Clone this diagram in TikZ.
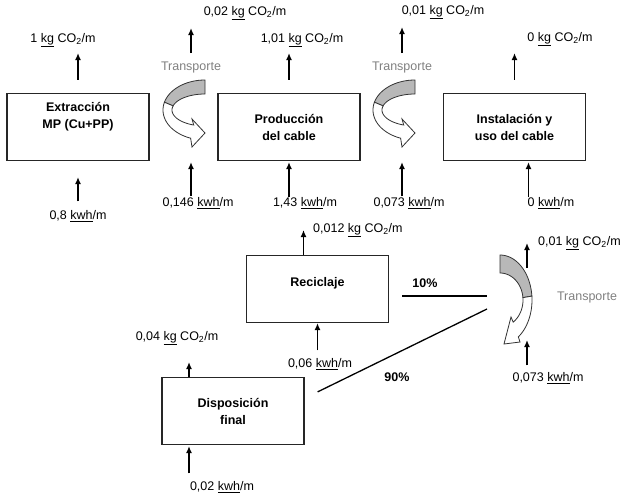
\documentclass[tikz,border=0pt]{standalone}
\usepackage{fontspec}
\setmainfont{Liberation Sans}
\usetikzlibrary{arrows.meta}

\newcommand{\tam}{\fontsize{12.5}{17}\selectfont}
\newcommand{\kgco}{\underline{kg} CO\textsubscript{2}/m}
\newcommand{\kwhm}{\underline{kwh}/m}

\tikzset{
  caja/.style={draw=black!85, line width=1.2pt, minimum width=142pt, minimum height=67pt,
    align=center, font=\tam\bfseries, inner sep=2pt},
  etiq/.style={inner sep=0pt},
  gris/.style={inner sep=0pt, text=black!50},
  flecha/.style={-{Latex[length=7pt,width=6pt]}, line width=1.4pt},
  linea/.style={line width=1.3pt},
  curva/.style={draw=black!80, line width=0.8pt}
}

\begin{document}
\begin{tikzpicture}[x=1pt, y=-1pt, font=\tam]

\useasboundingbox (0,0) rectangle (633,496);

% Cajas
\node[caja, text depth=23pt] (ext) at (78,127) {Extracción\\MP (Cu+PP)};
\node[caja] (prod) at (289,127) {Producción\\del cable};
\node[caja] (inst) at (514.5,127) {Instalación y\\uso del cable};
\node[caja, text depth=15pt] (rec) at (317.5,289) {Reciclaje};
\node[caja] (disp) at (233,411) {Disposición\\final};

% Etiquetas de emisiones
\node[etiq] (co1) at (63,40) {1 \kgco};
\node[etiq] (co2) at (245,13) {0,02 \kgco};
\node[etiq] (co3) at (302,40) {1,01 \kgco};
\node[etiq] (co4) at (443,12) {0,01 \kgco};
\node[etiq] (co5) at (560,39) {0 \kgco};
\node[etiq, anchor=west] (co6) at (313,230) {0,012 \kgco};
\node[etiq] (co7) at (177,338) {0,04 \kgco};
\node[etiq, anchor=west] (co8) at (538,243) {0,01 \kgco};

% Etiquetas de energía
\node[etiq] (kw1) at (78,216) {0,8 \kwhm};
\node[etiq] (kw2) at (198,203) {0,146 \kwhm};
\node[etiq] (kw3) at (305,203) {1,43 \kwhm};
\node[etiq] (kw4) at (409,203) {0,073 \kwhm};
\node[etiq] (kw5) at (551,203) {0 \kwhm};
\node[etiq] (kw6) at (320,364) {0,06 \kwhm};
\node[etiq] (kw7) at (222,487) {0,02 \kwhm};
\node[etiq] (kw8) at (548,378) {0,073 \kwhm};

% Transporte
\node[gris] (tr1) at (191,67) {Transporte};
\node[gris] (tr2) at (402,67) {Transporte};
\node[gris] (tr3) at (587,297) {Transporte};
\coordinate (sube) at (527,268);
\coordinate (baja) at (527,340);
\coordinate (entrada) at (487,296);

% Flechas curvas (arriba)
\foreach \cx in {205,415} {
  \begin{scope}[shift={(\cx,110)}]
    \filldraw[curva, fill=black!28]
      plot[domain=-90:-165, samples=30] ({42*cos(\x)},{30*sin(\x)})
      -- plot[domain=-165:-90, samples=30] ({33*cos(\x)},{16*sin(\x)}) -- cycle;
    \filldraw[curva, fill=white]
      plot[domain=-165:-250, samples=40] ({42*cos(\x)},{30*sin(\x)})
      -- (-13,37) -- (0,23) -- (-13,9)
      -- plot[domain=-250:-165, samples=40] ({33*cos(\x)},{16*sin(\x)}) -- cycle;
  \end{scope}
}

% Flecha curva (reciclaje)
\begin{scope}[shift={(500,300)}]
  \filldraw[curva, fill=black!28]
    plot[domain=-90:-5, samples=30] ({32*cos(\x)},{45*sin(\x)})
    -- plot[domain=-5:-90, samples=30] ({23*cos(\x)},{27*sin(\x)}) -- cycle;
  \filldraw[curva, fill=white]
    plot[domain=-5:55, samples=30] ({32*cos(\x)},{45*sin(\x)})
    -- (20,42) -- (4,44) -- (11,17)
    -- plot[domain=55:-5, samples=30] ({23*cos(\x)},{27*sin(\x)}) -- cycle;
\end{scope}

% Emisiones
\draw[flecha, shorten <=13pt, shorten >=6pt] (ext.north) -- (ext.north |- co1.south);
\draw[flecha, shorten <=8pt, shorten >=8pt] (tr1.north) -- (tr1.north |- co2.south);
\draw[flecha, shorten <=13pt, shorten >=6pt] (prod.north) -- (prod.north |- co3.south);
\draw[flecha, shorten <=8pt, shorten >=8pt] (tr2.north) -- (tr2.north |- co4.south);
\draw[flecha, shorten <=13pt, shorten >=7pt] (inst.north) -- (inst.north |- co5.south);
\draw[flecha] ([xshift=-14pt]rec.north) -- ([xshift=-14pt]rec.north |- co6.west);
\draw[flecha, shorten >=17pt] ([xshift=-44pt]disp.north) -- ([xshift=-44pt]disp.north |- co7.south);
\draw[flecha] (sube) -- (sube |- co8.west);

% Energía
\draw[flecha, shorten <=9pt, shorten >=16pt] (kw1.north) -- (kw1.north |- ext.south);
\draw[flecha, shorten <=1pt, shorten >=1pt] (kw2.north -| tr1.north) -- (tr1.north |- prod.south);
\draw[flecha, shorten >=1pt] (prod.south |- kw3.north) -- (prod.south);
\draw[flecha, shorten <=1pt, shorten >=1pt] (kw4.north -| tr2.north) -- (tr2.north |- inst.south);
\draw[flecha, shorten >=1pt] ([xshift=14pt]inst.south |- kw5.north) -- ([xshift=14pt]inst.south);
\draw[flecha, shorten <=8pt] (rec.south |- kw6.north) -- (rec.south);
\draw[flecha, shorten <=8pt, shorten >=1pt] ([xshift=-44pt]disp.south |- kw7.north) -- ([xshift=-44pt]disp.south);
\draw[flecha, shorten <=7pt] (kw8.north -| baja) -- (baja);

% Reparto 10% / 90%
\draw[linea, shorten <=13pt] ([yshift=-7pt]rec.east) -- (entrada);
\draw[linea] ([xshift=13pt,yshift=-15pt]disp.north east) -- ([yshift=-13pt]entrada);
\node[etiq, font=\tam\bfseries] (p10) at (425,283) {10\%};
\node[etiq, font=\tam\bfseries] (p90) at (397,377) {90\%};

\end{tikzpicture}
\end{document}
